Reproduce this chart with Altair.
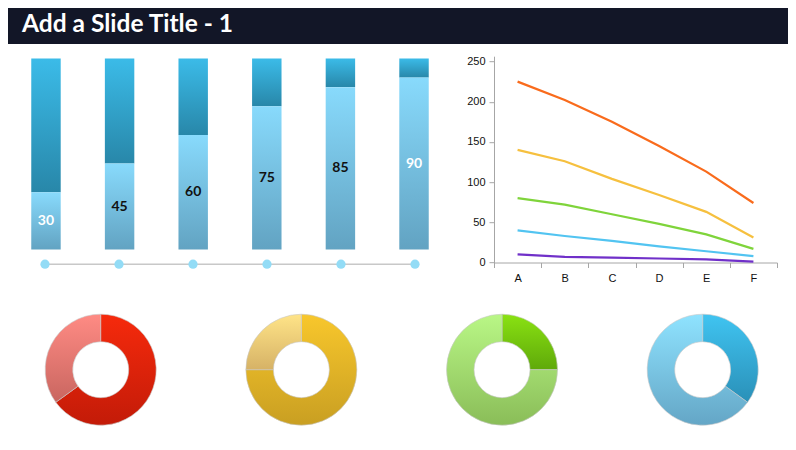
import altair as alt
import pandas as pd

# ---------------- data ----------------
title_text = ["Add a Slide Title - 1"]

bar_categories = ["c1", "c2", "c3", "c4", "c5", "c6"]
bar_values = [30, 45, 60, 75, 85, 90]
bar_total = 100

line_categories = ["A", "B", "C", "D", "E", "F"]
series_names = ["Orange", "Yellow", "Green", "Blue", "Purple"]
orange_vals = [225, 202, 175, 145, 113, 74]
yellow_vals = [140, 126, 104, 84, 63, 31]
green_vals = [80, 72, 60, 48, 35, 17]
blue_vals = [40, 33, 27, 20, 14, 8]
purple_vals = [10, 7, 6, 5, 4, 1]
y_ticks = [0, 50, 100, 150, 200, 250]

donut_names = ["Red", "Yellow", "Green", "Blue"]
donut_values = [65, 75, 25, 35]

# ---------------- tables ----------------
title_df = pd.DataFrame({"t": title_text})

bar_df = pd.DataFrame({
    "bar": bar_categories,
    "v": bar_values,
    "total": [bar_total] * len(bar_values),
    "idx": list(range(len(bar_values))),
})
bar_df["mid"] = bar_df["v"] / 2

series_vals = [orange_vals, yellow_vals, green_vals, blue_vals, purple_vals]
rows = []
for s, vals in zip(series_names, series_vals):
    for c, v in zip(line_categories, vals):
        rows.append({"series": s, "letter": c, "value": v})
line_df = pd.DataFrame(rows)

drows = []
for n, v in zip(donut_names, donut_values):
    drows.append({"donut": n, "part": "dark", "start": 0, "end": v})
    drows.append({"donut": n, "part": "light", "start": v, "end": 100})
donut_df = pd.DataFrame(drows)


def grad(top, bottom):
    return alt.LinearGradient(
        gradient="linear", x1=0, x2=0, y1=0, y2=1,
        stops=[alt.GradientStop(color=top, offset=0),
               alt.GradientStop(color=bottom, offset=1)],
    )


# ---------------- title ----------------
title_panel = alt.Chart(title_df).mark_text(
    align="left", baseline="alphabetic", font="Lato", fontSize=24.5,
    fontWeight="bold", color="white"
).encode(
    text="t:N", x=alt.value(14), y=alt.value(24)
).properties(width=780, height=36,
             view=alt.ViewBackground(fill="#121627", strokeWidth=0))

# ---------------- bars ----------------
xb = alt.X("bar:N", scale=alt.Scale(domain=bar_categories, paddingInner=0.6,
                                    paddingOuter=0.316), axis=None)
yb = alt.Scale(domain=[0, 101.2], nice=False)

upper = alt.Chart(bar_df).mark_bar(color=grad("#3bbbe8", "#2887a9")).encode(
    x=xb, y=alt.Y("v:Q", scale=yb, axis=None), y2="total:Q")
lower = alt.Chart(bar_df).mark_bar(color=grad("#88dafc", "#62a3c2")).encode(
    x=xb, y=alt.Y("v:Q", scale=yb, axis=None))
labels = alt.Chart(bar_df).mark_text(
    font="Lato", fontSize=14, fontWeight="bold"
).encode(
    x=xb, y=alt.Y("mid:Q", scale=yb, axis=None), text="v:Q",
    color=alt.condition("datum.idx == 0 || datum.idx == 5",
                        alt.value("white"), alt.value("#111111")))
bars = alt.layer(upper, lower, labels).properties(width=444, height=193.3)

dot_line = alt.Chart(bar_df).mark_line(color="#c8c8c8", strokeWidth=1.6).encode(x=xb)
dots = alt.Chart(bar_df).mark_point(filled=True, size=85, opacity=1,
                                    color="#93dcf6").encode(x=xb)
dots_panel = alt.layer(dot_line, dots).properties(width=444, height=28)

left_block = alt.vconcat(bars, dots_panel, spacing=0)

# ---------------- lines ----------------
line_chart = alt.Chart(line_df).mark_line(strokeWidth=2.2).encode(
    x=alt.X("letter:N", sort=line_categories,
            scale=alt.Scale(paddingInner=0, paddingOuter=0),
            axis=alt.Axis(title=None, labelAngle=0, tickBand="extent",
                          tickSize=5, labelPadding=5)),
    y=alt.Y("value:Q", scale=alt.Scale(domain=[0, 256.6], nice=False),
            axis=alt.Axis(title=None, values=y_ticks, tickSize=5,
                          labelPadding=4)),
    color=alt.Color("series:N",
                    scale=alt.Scale(domain=series_names,
                                    range=["#f96b1c", "#f6c03f", "#7fd43b",
                                           "#52c4f1", "#7030c9"]),
                    legend=None),
).properties(width=283, height=206.3)

row1 = alt.hconcat(left_block, line_chart, spacing=14)

# ---------------- donuts ----------------
donut_colors = {
    ("Red", "dark"): ("#f62a0c", "#c31b08"),
    ("Red", "light"): ("#ff8b84", "#c96660"),
    ("Yellow", "dark"): ("#f8c72c", "#c99f22"),
    ("Yellow", "light"): ("#ffe488", "#d6b266"),
    ("Green", "dark"): ("#8ae212", "#5fa90a"),
    ("Green", "light"): ("#b9f786", "#8abd58"),
    ("Blue", "dark"): ("#40c4f1", "#2a90b8"),
    ("Blue", "light"): ("#8fe3ff", "#64a6c6"),
}
xd = alt.X("donut:N", scale=alt.Scale(type="point", domain=donut_names,
                                      range=[92.7, 694.7], padding=0), axis=None)
donut_layers = []
for n in donut_names:
    for p in ["dark", "light"]:
        top, bottom = donut_colors[(n, p)]
        donut_layers.append(
            alt.Chart(donut_df).transform_filter(
                f"datum.donut == '{n}' && datum.part == '{p}'"
            ).mark_arc(innerRadius=28, outerRadius=55.5, color=grad(top, bottom),
                       stroke="#c8c8c8", strokeWidth=0.6).encode(
                x=xd,
                theta=alt.Theta("start:Q", scale=alt.Scale(domain=[0, 100])),
                theta2="end:Q",
            )
        )
donuts = alt.layer(*donut_layers).properties(width=780, height=120)

lower_block = alt.vconcat(row1, donuts, spacing=25.5)

chart = alt.vconcat(title_panel, lower_block, spacing=11.2).properties(
    padding=0, background="white"
).configure_view(strokeWidth=0).configure_axis(
    domainColor="#a6a6a6", tickColor="#a6a6a6", labelColor="#111111",
    labelFont="Liberation Sans", labelFontSize=11, grid=False,
)

chart.save("out.html", embed_options={"renderer": "svg", "actions": False})
